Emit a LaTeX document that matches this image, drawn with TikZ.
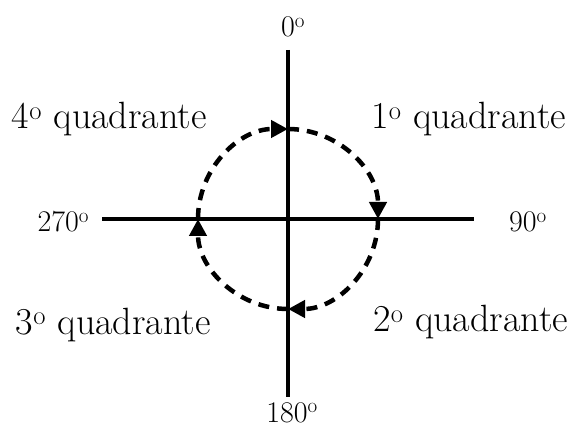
\documentclass[tikz,border=0pt]{standalone}
\usetikzlibrary{arrows.meta}
\tikzset{
  dg/.style={x=1pt,y=1pt,line width=4pt},
  axlbl/.style={font=\fontsize{30}{36}\selectfont,inner sep=0pt},
  quadlbl/.style={font=\fontsize{38}{44}\selectfont,inner sep=0pt},
  turn/.style={line width=4.5pt,dash pattern=on 11pt off 8pt,-{Triangle[length=17pt,width=17pt]}}
}
\newcommand{\ordo}{\textsuperscript{o}}

\begin{document}
\begin{tikzpicture}[dg]
  \useasboundingbox (0,0) rectangle (577,428);
  \coordinate (O) at (288,209);
  \coordinate (up) at (288,378);
  \coordinate (dn) at (288,31);
  \coordinate (lf) at (102,209);
  \coordinate (rt) at (474,209);
  \draw (up)--(dn);
  \draw (lf)--(rt);
  % clockwise, one arc per quadrant
  \foreach \a in {180,90,0,-90}{\draw[turn] (O) ++(\a:90) arc[start angle=\a,end angle=\a-90,radius=90];}
  \node[axlbl,anchor=base] (l0) at (293,391) {0\ordo};
  \node[axlbl,anchor=base] (l180) at (292,6) {180\ordo};
  \node[axlbl,anchor=base east] (l270) at (91,196) {270\ordo};
  \node[axlbl,anchor=base west] (l90) at (507,196) {90\ordo};
  \node[quadlbl,anchor=base west] (q4) at (10,299) {4\ordo\ quadrante};
  \node[quadlbl,anchor=base east] (q1) at (568,299) {1\ordo\ quadrante};
  \node[quadlbl,anchor=base west] (q3) at (14,94) {3\ordo\ quadrante};
  \node[quadlbl,anchor=base east] (q2) at (570,96) {2\ordo\ quadrante};
\end{tikzpicture}
\end{document}
